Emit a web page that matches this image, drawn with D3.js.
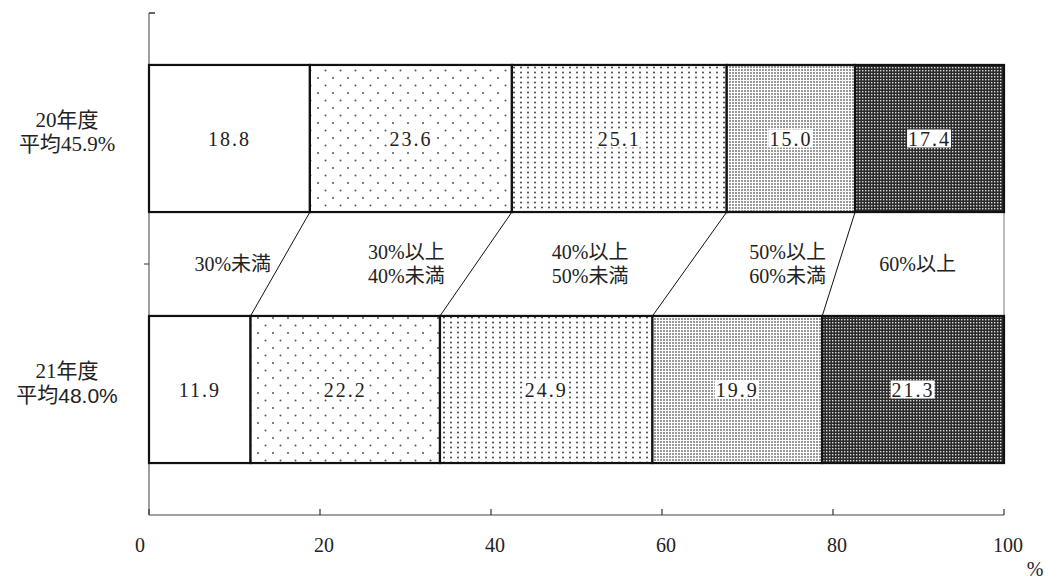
<!DOCTYPE html>
<html lang="ja">
<head>
<meta charset="utf-8">
<title>平均比率の分布</title>
<script src="https://cdn.jsdelivr.net/npm/d3@7"></script>
<style>
  body { margin: 0; background: #fff; }
  svg text { font-family: "Liberation Serif", "Noto Sans CJK JP", serif; fill: #222; }
</style>
</head>
<body>
<div id="viz"></div>
<script>
// data
const categories = ["20年度", "21年度"];
const avgLabels = [["平均", "45.9%"], ["平均", "48.0%"]];
const segmentNames = [["30%未満"], ["30%以上", "40%未満"], ["40%以上", "50%未満"], ["50%以上", "60%未満"], ["60%以上"]];
const values20 = [18.8, 23.6, 25.1, 15.0, 17.4];
const values21 = [11.9, 22.2, 24.9, 19.9, 21.3];
const xTicks = [0, 20, 40, 60, 80, 100];

// layout
const W = 1048, H = 579;
const plot = { left: 149, right: 1004, top: 13, bottom: 515 };
const nameX = [9.8, 30.1, 51.6, 74.7, 89.9]; // label centres, in % of axis

const svg = d3.select("#viz").append("svg").attr("width", W).attr("height", H);

// patterns
const defs = svg.append("defs");
function pat(id, w, h, bg, draw) {
  const p = defs.append("pattern").attr("id", id).attr("patternUnits", "userSpaceOnUse")
    .attr("width", w).attr("height", h);
  p.append("rect").attr("width", w).attr("height", h).attr("fill", bg);
  draw(p);
}
pat("p1", 15, 15, "#fff", p => {
  p.append("circle").attr("cx", 3).attr("cy", 3).attr("r", 1).attr("fill", "#555");
  p.append("circle").attr("cx", 10.5).attr("cy", 10.5).attr("r", 1).attr("fill", "#555");
});
pat("p2", 7, 5, "#fff", p => {
  p.append("circle").attr("cx", 3).attr("cy", 2.5).attr("r", 1).attr("fill", "#444");
});
pat("p3", 3, 3, "#fff", p => {
  p.append("rect").attr("x", 0).attr("y", 0).attr("width", 2).attr("height", 2).attr("fill", "#9a9a9a");
});
pat("p4", 3, 3, "#2a2a2a", p => {
  p.append("rect").attr("x", 1).attr("y", 1).attr("width", 1.4).attr("height", 1.4).attr("fill", "#dcdcdc");
});
const fills = ["#fff", "url(#p1)", "url(#p2)", "url(#p3)", "url(#p4)"];

// scales
const x = d3.scaleLinear().domain([0, 100]).range([plot.left, plot.right]);
const y = d3.scaleBand().domain(categories).range([plot.top, plot.bottom])
  .paddingInner(0.414).paddingOuter(0.207);

// stacked (normalised to 100%)
function stack(vals) {
  const total = d3.sum(vals);
  let c = 0;
  return vals.map((v, i) => {
    const s = c / total * 100;
    c += v;
    return { i, v, x0: s, x1: c / total * 100 };
  });
}
const rows = [stack(values20), stack(values21)];

// axes
const axisColor = "#808080";
svg.append("line").attr("x1", plot.left).attr("x2", plot.left)
  .attr("y1", plot.top).attr("y2", plot.bottom).attr("stroke", axisColor).attr("stroke-width", 1.5);
svg.append("line").attr("x1", plot.left).attr("x2", plot.right)
  .attr("y1", plot.bottom).attr("y2", plot.bottom).attr("stroke", axisColor).attr("stroke-width", 1.5);
svg.append("line").attr("x1", plot.left).attr("x2", plot.left + 6)
  .attr("y1", plot.top).attr("y2", plot.top).attr("stroke", "#333").attr("stroke-width", 1.5);
const midTick = plot.top + y.step();
svg.append("line").attr("x1", plot.left - 5).attr("x2", plot.left)
  .attr("y1", midTick).attr("y2", midTick).attr("stroke", "#333").attr("stroke-width", 1);

svg.selectAll(".xtick").data(xTicks).enter().append("line")
  .attr("x1", d => x(d)).attr("x2", d => x(d))
  .attr("y1", plot.bottom - 6).attr("y2", plot.bottom)
  .attr("stroke", "#333").attr("stroke-width", 1.2);
svg.selectAll(".xlab").data(xTicks).enter().append("text")
  .attr("x", d => x(d) + (d === 0 ? -9 : 4)).attr("y", 545)
  .attr("text-anchor", "middle").attr("dominant-baseline", "central")
  .attr("font-size", 20).text(d => d);
svg.append("text").attr("x", 1035).attr("y", 569).attr("text-anchor", "middle")
  .attr("dominant-baseline", "central").attr("font-size", 20).text("%");

// series lines between bars
const yTop1 = y(categories[0]) + y.bandwidth();
const yTop2 = y(categories[1]);
for (let i = 0; i < 5; i++) {
  svg.append("line")
    .attr("x1", x(rows[0][i].x1)).attr("y1", yTop1)
    .attr("x2", x(rows[1][i].x1)).attr("y2", yTop2)
    .attr("stroke", i === 4 ? "#777" : "#111").attr("stroke-width", 1);
}

// bars
rows.forEach((row, r) => {
  const g = svg.append("g");
  const y0 = y(categories[r]);
  g.selectAll("rect").data(row).enter().append("rect")
    .attr("x", d => x(d.x0)).attr("y", y0)
    .attr("width", d => x(d.x1) - x(d.x0)).attr("height", y.bandwidth())
    .attr("fill", d => fills[d.i]).attr("stroke", "#111").attr("stroke-width", 2.2);

  row.forEach(d => {
    const cx = (x(d.x0) + x(d.x1)) / 2, cy = y0 + y.bandwidth() / 2;
    const t = g.append("text").attr("x", cx).attr("y", cy)
      .attr("text-anchor", "middle").attr("dominant-baseline", "central")
      .attr("font-size", 20).attr("letter-spacing", 2).text(d.v.toFixed(1));
    if (d.i > 0) {
      const b = t.node().getBBox();
      g.insert("rect", function () { return t.node(); })
        .attr("x", b.x - 1).attr("y", b.y + 2).attr("width", b.width + 1).attr("height", b.height - 4)
        .attr("fill", "#fff");
    }
  });
});

// category labels
categories.forEach((c, r) => {
  const cy = y(c) + y.bandwidth() / 2;
  svg.append("text").attr("x", 67).attr("y", cy - 19).attr("text-anchor", "middle")
    .attr("dominant-baseline", "central").attr("font-size", 21).text(c);
  const t = svg.append("text").attr("x", 67).attr("y", cy + 5).attr("text-anchor", "middle")
    .attr("dominant-baseline", "central").attr("font-size", 21);
  t.append("tspan").text(avgLabels[r][0]);
  t.append("tspan").attr("font-family", r === 1 ? "Liberation Sans, sans-serif" : null)
    .text(avgLabels[r][1]);
});

// segment names between bars
const midY = (yTop1 + yTop2) / 2;
segmentNames.forEach((lines, i) => {
  lines.forEach((s, k) => {
    svg.append("text").attr("x", x(nameX[i]))
      .attr("y", midY + (k - (lines.length - 1) / 2) * 24)
      .attr("text-anchor", "middle").attr("dominant-baseline", "central")
      .attr("font-size", 20).text(s);
  });
});
</script>
</body>
</html>
